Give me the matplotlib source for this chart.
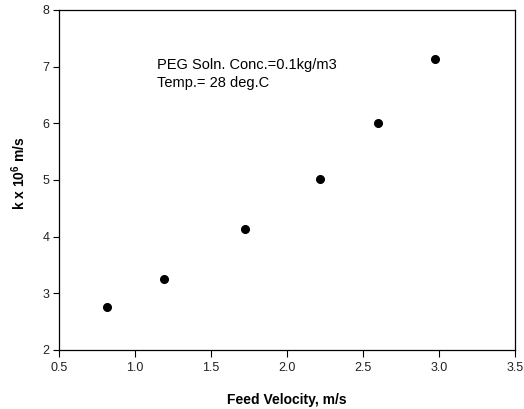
import matplotlib
matplotlib.use('Agg')
import matplotlib.pyplot as plt

# feed velocity (m/s) and mass transfer coefficient k x 10^6 (m/s)
velocity = [0.815, 1.194, 1.724, 2.215, 2.598, 2.977]
k_values = [2.75, 3.25, 4.13, 5.02, 6.01, 7.13]

x_ticks = [0.5, 1.0, 1.5, 2.0, 2.5, 3.0, 3.5]
y_ticks = [2, 3, 4, 5, 6, 7, 8]

plt.rcParams['font.family'] = ['Liberation Sans', 'DejaVu Sans']
plt.rcParams['mathtext.fontset'] = 'custom'
plt.rcParams['mathtext.rm'] = 'Liberation Sans'
plt.rcParams['mathtext.bf'] = 'Liberation Sans:bold'
plt.rcParams['mathtext.default'] = 'bf'

fig = plt.figure(figsize=(5.24, 4.09), dpi=100)
ax = fig.add_axes([0.1126, 0.1443, 0.8702, 0.8313])

ax.plot(velocity, k_values, 'o', color='black', markersize=5.5, linestyle='none')

ax.set_xlim(0.5, 3.5)
ax.set_ylim(2, 8)
ax.set_xticks(x_ticks)
ax.set_xticklabels(['%.1f' % v for v in x_ticks])
ax.set_yticks(y_ticks)
ax.tick_params(axis='both', direction='out', labelsize=9, colors='black',
               labelcolor='#222222', width=0.8)
ax.tick_params(axis='x', length=5, pad=4)
ax.tick_params(axis='y', length=4, pad=3)

for s in ax.spines.values():
    s.set_linewidth(0.9)
    s.set_color('black')

ax.set_xlabel('Feed Velocity, m/s', fontsize=10, fontweight='bold', labelpad=13)
ax.set_ylabel(r'k x 10$^{6}$ m/s', fontsize=10, fontweight='bold')
ax.yaxis.set_label_coords(-0.068, 0.52)

ax.text(0.216, 0.826, 'PEG Soln. Conc.=0.1kg/m3', transform=ax.transAxes,
        fontsize=10.5, va='baseline', ha='left')
ax.text(0.216, 0.773, 'Temp.= 28 deg.C', transform=ax.transAxes,
        fontsize=10.5, va='baseline', ha='left')

fig.savefig('out.png', dpi=100)
